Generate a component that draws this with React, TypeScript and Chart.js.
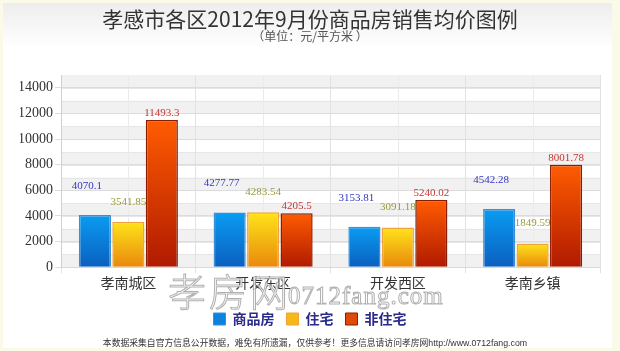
import React, { useEffect, useRef } from "react";
import { Chart, registerables } from "chart.js";

Chart.register(...registerables);

const categories = ["孝南城区", "开发东区", "开发西区", "孝南乡镇"];
const seriesNames = ["商品房", "住宅", "非住宅"];
const commercial = [4070.1, 4277.77, 3153.81, 4542.28];
const residential = [3541.85, 4283.54, 3091.18, 1849.59];
const nonResidential = [11493.3, 4205.5, 5240.02, 8001.78];
const yTickValues = [0, 2000, 4000, 6000, 8000, 10000, 12000, 14000];
const yMax = 15000;
const bandStep = 1000;

const gradTop = ["#0a9cf2", "#ffe41a", "#ff5c00"];
const gradBottom = ["#0b5fbf", "#e8880c", "#b01a00"];
const borderColors = ["#3b8fd6", "#f2a23c", "#8c1c00"];
const legendColors = ["#0a82e0", "#f6b814", "#e04a08"];
const labelColors = ["#3535c2", "#9a9a3c", "#c83434"];
const labelDx = [-8, 0, 0];
const labelDy = [29, 20, 7];

function barGradient(i: number) {
  return (ctx: any) => {
    const chart = ctx.chart;
    const { chartArea, scales } = chart;
    if (!chartArea || ctx.type !== "data" || !scales.y) return gradBottom[i];
    const y0 = scales.y.getPixelForValue(ctx.raw);
    const y1 = scales.y.getPixelForValue(0);
    if (!isFinite(y0) || !isFinite(y1) || y0 === y1) return gradBottom[i];
    const g = chart.ctx.createLinearGradient(0, y0, 0, y1);
    g.addColorStop(0, gradTop[i]);
    g.addColorStop(1, gradBottom[i]);
    return g;
  };
}

const bandsPlugin = {
  id: "bands",
  beforeDraw(chart: any) {
    const { ctx, chartArea, scales } = chart;
    if (!chartArea) return;
    const y = scales.y;
    const x = scales.x;
    ctx.save();
    ctx.fillStyle = "#f1f1f1";
    for (let v = 0; v < yMax; v += bandStep * 2) {
      const top = y.getPixelForValue(Math.min(v + bandStep, yMax));
      const bot = y.getPixelForValue(v);
      ctx.fillRect(chartArea.left, top, chartArea.right - chartArea.left, bot - top);
    }
    ctx.strokeStyle = "#e6e6e6";
    ctx.lineWidth = 1;
    for (let v = bandStep; v < yMax; v += bandStep) {
      const py = Math.round(y.getPixelForValue(v)) + 0.5;
      ctx.beginPath();
      ctx.moveTo(chartArea.left, py);
      ctx.lineTo(chartArea.right, py);
      ctx.stroke();
    }
    ctx.strokeStyle = "#ebebeb";
    for (let i = 0; i < categories.length; i++) {
      const px = Math.round(x.getPixelForValue(i)) + 0.5;
      ctx.beginPath();
      ctx.moveTo(px, chartArea.top);
      ctx.lineTo(px, chartArea.bottom);
      ctx.stroke();
    }
    ctx.restore();
  },
};

const labelPlugin = {
  id: "valueLabels",
  beforeDatasetsDraw(chart: any) {
    const { ctx } = chart;
    ctx.save();
    ctx.font = "11px 'Liberation Serif', 'DejaVu Serif', serif";
    ctx.textAlign = "center";
    ctx.textBaseline = "middle";
    chart.data.datasets.forEach((ds: any, di: number) => {
      const meta = chart.getDatasetMeta(di);
      meta.data.forEach((el: any, idx: number) => {
        ctx.fillStyle = labelColors[di];
        ctx.fillText(String(ds.data[idx]), el.x + labelDx[di], el.y - labelDy[di]);
      });
    });
    ctx.restore();
  },
};

export default function App() {
  const canvasRef = useRef<HTMLCanvasElement>(null);

  useEffect(() => {
    document.body.style.margin = "0";
    const canvas = canvasRef.current;
    if (!canvas) return;
    const series = [commercial, residential, nonResidential];
    const chart = new Chart(canvas, {
      type: "bar",
      data: {
        labels: categories,
        datasets: series.map((d, i) => ({
          label: seriesNames[i],
          data: d,
          backgroundColor: barGradient(i),
          borderColor: borderColors[i],
          borderWidth: 1.5,
          categoryPercentage: 0.745,
          barPercentage: 0.96,
        })),
      },
      options: {
        animation: false,
        responsive: true,
        maintainAspectRatio: false,
        layout: { padding: { left: 20, right: 20, top: 0, bottom: 15 } },
        plugins: {
          tooltip: { enabled: false },
          title: {
            display: true,
            text: "孝感市各区2012年9月份商品房销售均价图例",
            color: "#333333",
            font: { family: "'Noto Sans CJK SC', sans-serif", size: 21, weight: "normal", lineHeight: 1.0 },
            padding: { top: 9, bottom: 0 },
          },
          subtitle: {
            display: true,
            text: "（单位：元/平方米 ）",
            color: "#555555",
            font: { family: "'Noto Sans CJK SC', sans-serif", size: 12, lineHeight: 1.0 },
            padding: { top: 0, bottom: 33 },
          },
          legend: {
            position: "bottom",
            labels: {
              boxWidth: 12,
              boxHeight: 12,
              padding: 12,
              color: "#2b2b8c",
              font: { family: "'Noto Sans CJK SC', sans-serif", size: 14, weight: "bold" },
              generateLabels: () =>
                seriesNames.map((text, i) => ({
                  text,
                  fillStyle: legendColors[i],
                  strokeStyle: borderColors[i],
                  lineWidth: 1,
                  hidden: false,
                  datasetIndex: i,
                  fontColor: "#2b2b8c",
                })),
            },
          },
        },
        scales: {
          x: {
            offset: true,
            afterFit: (scale: any) => {
              scale.height += 8;
            },
            grid: { offset: true, color: "#e2e2e2", tickLength: 6, drawTicks: true },
            border: { color: "#d8d8d8" },
            ticks: {
              color: "#333333",
              padding: 1,
              font: { family: "'Noto Sans CJK SC', sans-serif", size: 14 },
            },
          },
          y: {
            min: 0,
            max: yMax,
            afterFit: (scale: any) => {
              scale.width = 41;
            },
            afterBuildTicks: (scale: any) => {
              scale.ticks = yTickValues.map((v) => ({ value: v }));
            },
            grid: { color: "#dcdcdc", tickLength: 6, drawTicks: true },
            border: { color: "#d0d0d0" },
            ticks: {
              color: "#333333",
              padding: 2,
              callback: (v: any) => String(v),
              font: { family: "'Liberation Serif', 'DejaVu Serif', serif", size: 14 },
            },
          },
        },
      },
      plugins: [bandsPlugin, labelPlugin],
    });
    return () => chart.destroy();
  }, []);

  const wmStyle: React.CSSProperties = {
    position: "absolute",
    whiteSpace: "nowrap",
    pointerEvents: "none",
    lineHeight: 1,
    color: "rgba(255,255,255,0.8)",
    WebkitTextStroke: "1px rgba(150,150,150,0.75)",
  };

  return (
    <div
      style={{
        position: "relative",
        width: 620,
        height: 351,
        background: "linear-gradient(to bottom, #ececec 0px, #ffffff 48px)",
        boxShadow: "inset 3px 3px 0 0 #fbf9e8, inset -8px -3px 0 0 #fbf9e8",
        overflow: "hidden",
      }}
    >
      <canvas ref={canvasRef} style={{ position: "absolute", left: 0, top: 0, width: 620, height: 351 }} />
      <div
        style={{
          ...wmStyle,
          left: 168,
          top: 271,
          fontFamily: "'Noto Sans CJK SC', sans-serif",
          fontSize: 38,
          letterSpacing: 3,
          fontWeight: 300,
        }}
      >
        孝房网
      </div>
      <div
        style={{
          ...wmStyle,
          left: 288,
          top: 283,
          fontFamily: "'Liberation Serif', serif",
          fontSize: 25,
          letterSpacing: 1,
        }}
      >
        0712fang.com
      </div>
      <div
        style={{
          position: "absolute",
          left: 5,
          width: 620,
          top: 336,
          textAlign: "center",
          fontSize: 8.8,
          color: "#333333",
          whiteSpace: "nowrap",
          fontFamily: "'Noto Sans CJK SC', sans-serif",
        }}
      >
        本数据采集自官方信息公开数据，难免有所遗漏，仅供参考！更多信息请访问孝房网
        <span style={{ fontFamily: "'Liberation Sans', Arial, sans-serif" }}>http://www.0712fang.com</span>
      </div>
    </div>
  );
}
